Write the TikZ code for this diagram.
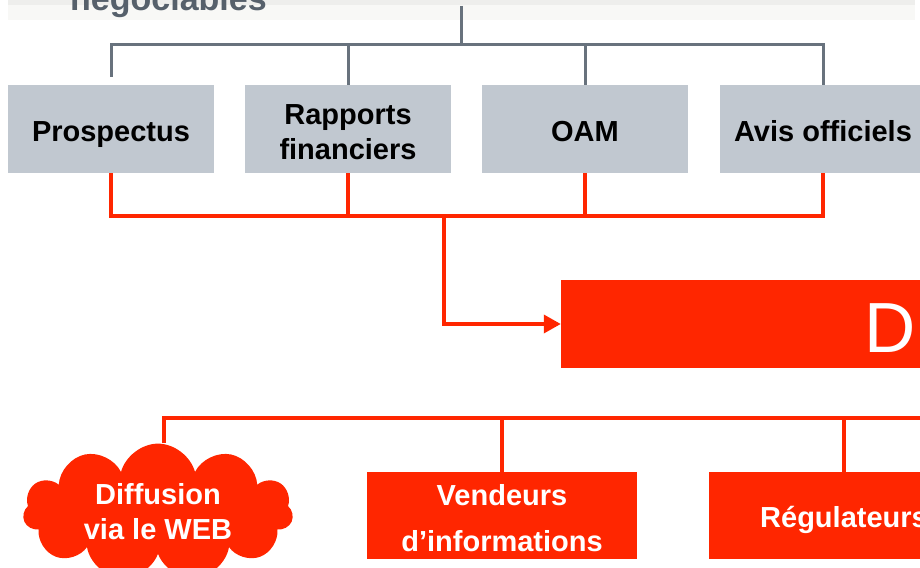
\documentclass[tikz,border=0pt]{standalone}
\usepackage{fontspec}
\setmainfont{Liberation Sans}
\usetikzlibrary{shapes.symbols,arrows.meta,calc}
\definecolor{rouge}{RGB}{255,38,0}
\definecolor{grisbox}{RGB}{193,200,208}
\definecolor{grisline}{RGB}{104,114,125}
\definecolor{bandA}{RGB}{238,238,236}
\definecolor{bandB}{RGB}{248,248,246}
\definecolor{titlegray}{RGB}{86,96,107}
\begin{document}
\begin{tikzpicture}[x=1pt,y=-1pt,
 graybox/.style={fill=grisbox, minimum width=206pt, minimum height=88pt, inner sep=0pt, font=\fontsize{29}{35}\selectfont\bfseries, align=center, text=black},
 oneline/.style={text height=24pt, text depth=0pt},
 redbox/.style={fill=rouge, minimum width=270pt, minimum height=87pt, inner sep=0pt, font=\fontsize{29}{46}\selectfont\bfseries, align=center, text=white},
 gline/.style={draw=grisline, line width=3pt},
 rline/.style={draw=rouge, line width=3.5pt}]
\useasboundingbox (0,0) rectangle (920,567);
\clip (0,0) rectangle (920,567);
\fill[bandB] (8,0) rectangle (915,20);
\fill[bandA] (8,0) rectangle (915,5);
\node[anchor=base west, inner sep=0pt, font=\fontsize{34}{40}\selectfont\bfseries, text=titlegray] (titre) at (70,11) {négociables};

\node[graybox, oneline] (p) at (111,129) {Prospectus};
\node[graybox, text height=61pt, text depth=0pt] (r) at (348,129) {Rapports\\financiers};
\node[graybox, oneline] (o) at (585,129) {OAM};
\node[graybox, oneline] (a) at (823,129) {Avis officiels};

\node[fill=rouge, minimum width=370pt, minimum height=88pt, inner sep=0pt] (d) at (746,324) {};
\node[anchor=base west, inner sep=0pt, text=white, font=\fontsize{71}{80}\selectfont] (dl) at (864,352) {D};

\node[cloud, cloud puffs=11, aspect=2.2, fill=rouge, minimum width=270pt, minimum height=126pt, inner sep=0pt, text=white, font=\fontsize{29}{35}\selectfont\bfseries, align=center] (c) at (158,512) {Diffusion\\via le WEB};
\node[redbox, text height=71pt, text depth=0pt] (v) at (502,515.5) {Vendeurs\\d’informations};
\node[redbox, oneline] (g) at (844,515.5) {Régulateurs};

\coordinate (top) at (461,6);
\coordinate (bus) at (461,45);
\draw[gline] (top) -- (bus);
\draw[gline, shorten <=8pt] (p.north) |- (bus);
\draw[gline] (a.north) |- (bus);
\draw[gline] (r.north) -- (r.north |- bus);
\draw[gline] (o.north) -- (o.north |- bus);

\coordinate (rbus) at (444,216);
\draw[rline] (p.south) |- (rbus);
\draw[rline] (a.south) |- (rbus);
\draw[rline] (r.south) -- (r.south |- rbus);
\draw[rline] (o.south) -- (o.south |- rbus);
\draw[rline, -{Triangle[length=17pt,width=18pt]}] (rbus) |- (d.west);

\coordinate (bbus) at (164,418);
\coordinate (bend) at (925,418);
\draw[rline] (bend) -- (bbus) -- (bbus |- c.north);
\draw[rline] (v.north) -- (v.north |- bbus);
\draw[rline] (g.north) -- (g.north |- bbus);
\end{tikzpicture}
\end{document}
